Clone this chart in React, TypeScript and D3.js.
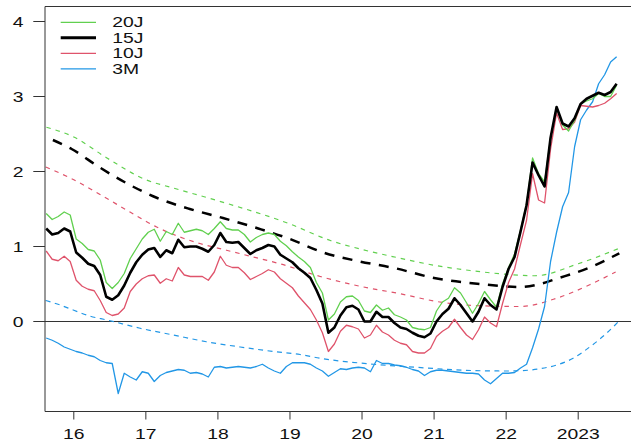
import React from "react";
import * as d3 from "d3";

// Monthly observations, first month Aug 2015
const startYear = 2015;
const startMonth = 8;

const yield20J = [
  1.44, 1.36, 1.40, 1.46, 1.42, 1.10, 1.04, 0.96, 0.94, 0.82,
  0.52, 0.44, 0.52, 0.64, 0.84, 0.97, 1.10, 1.19, 1.23, 1.07,
  1.20, 1.16, 1.31, 1.19, 1.21, 1.23, 1.21, 1.16, 1.24, 1.33,
  1.24, 1.22, 1.22, 1.16, 1.06, 1.12, 1.16, 1.18, 1.16, 1.07,
  1.01, 0.93, 0.86, 0.80, 0.72, 0.52, 0.38, 0.02, 0.10, 0.26,
  0.33, 0.34, 0.28, 0.14, 0.12, 0.22, 0.15, 0.18, 0.09, 0.06,
  0.02, -0.08, -0.10, -0.11, -0.08, 0.14, 0.26, 0.31, 0.45, 0.38,
  0.25, 0.11, 0.24, 0.40, 0.29, 0.19, 0.50, 0.72, 0.90, 1.22,
  1.57, 2.18, 1.97, 1.86, 2.45, 2.86, 2.62, 2.54, 2.68, 2.90,
  2.94, 2.97, 3.04, 3.00, 3.00, 3.15,
];

const yield15J = [
  1.24, 1.16, 1.18, 1.24, 1.20, 0.92, 0.85, 0.77, 0.74, 0.62,
  0.33, 0.29, 0.35, 0.48, 0.65, 0.79, 0.89, 0.96, 0.98, 0.86,
  0.95, 0.91, 1.09, 0.99, 1.00, 1.00, 0.97, 0.93, 1.02, 1.18,
  1.06, 1.05, 1.06, 0.98, 0.90, 0.95, 0.98, 1.02, 1.00, 0.89,
  0.84, 0.79, 0.71, 0.65, 0.58, 0.42, 0.24, -0.15, -0.08, 0.08,
  0.19, 0.21, 0.16, 0.00, 0.00, 0.13, 0.06, 0.06, -0.02, -0.08,
  -0.10, -0.15, -0.19, -0.21, -0.16, 0.00, 0.10, 0.17, 0.31, 0.22,
  0.11, 0.00, 0.13, 0.31, 0.22, 0.16, 0.46, 0.70, 0.86, 1.20,
  1.55, 2.12, 1.95, 1.80, 2.45, 2.86, 2.64, 2.60, 2.71, 2.90,
  2.97, 3.01, 3.05, 3.02, 3.06, 3.17,
];

const yield10J = [
  0.94, 0.83, 0.81, 0.87, 0.80, 0.55, 0.47, 0.43, 0.41, 0.28,
  0.12, 0.08, 0.10, 0.18, 0.40, 0.50, 0.57, 0.61, 0.62, 0.51,
  0.57, 0.54, 0.72, 0.62, 0.60, 0.60, 0.60, 0.55, 0.66, 0.87,
  0.75, 0.72, 0.72, 0.65, 0.56, 0.60, 0.64, 0.69, 0.66, 0.57,
  0.51, 0.45, 0.34, 0.25, 0.16, 0.02, -0.15, -0.40, -0.30, -0.13,
  -0.05, -0.07, -0.10, -0.22, -0.18, -0.05, -0.14, -0.18, -0.25, -0.29,
  -0.31, -0.40, -0.42, -0.42, -0.36, -0.20, -0.13, -0.08, 0.03, -0.08,
  -0.18, -0.24, -0.11, 0.06, -0.02, -0.07, 0.24, 0.52, 0.70, 1.03,
  1.35, 1.97, 1.62, 1.58, 2.30, 2.78, 2.56, 2.57, 2.66, 2.88,
  2.87, 2.86, 2.88, 2.91, 2.97, 3.04,
];

const yield3M = [
  -0.22, -0.25, -0.29, -0.34, -0.37, -0.40, -0.42, -0.45, -0.47, -0.52,
  -0.55, -0.56, -0.96, -0.69, -0.74, -0.78, -0.67, -0.69, -0.80, -0.72,
  -0.68, -0.66, -0.64, -0.65, -0.69, -0.68, -0.70, -0.74, -0.61, -0.60,
  -0.62, -0.61, -0.60, -0.61, -0.62, -0.60, -0.57, -0.62, -0.66, -0.69,
  -0.60, -0.55, -0.55, -0.55, -0.57, -0.62, -0.66, -0.73, -0.68, -0.63,
  -0.64, -0.62, -0.61, -0.62, -0.67, -0.52, -0.56, -0.56, -0.58, -0.59,
  -0.61, -0.64, -0.66, -0.72, -0.67, -0.65, -0.65, -0.66, -0.67, -0.68,
  -0.69, -0.69, -0.70, -0.78, -0.83, -0.76, -0.69, -0.69, -0.68, -0.62,
  -0.57, -0.35, -0.10, 0.20, 0.80, 1.19, 1.53, 1.72, 2.33, 2.69,
  2.82, 2.93, 3.17, 3.29, 3.46, 3.53,
];

// Smooth (dashed) curves: [decimal year, value]
const trend20J: [number, number][] = [
  [2015.62, 2.59], [2016.0, 2.46], [2016.46, 2.18], [2017.0, 1.89], [2017.38, 1.78],
  [2018.0, 1.61], [2019.0, 1.30], [2019.56, 1.08], [2020.0, 0.96], [2020.5, 0.85],
  [2021.0, 0.75], [2021.5, 0.68], [2022.0, 0.63], [2022.4, 0.61], [2023.0, 0.77],
  [2023.58, 0.98],
];
const trend15J: [number, number][] = [
  [2015.71, 2.42], [2015.97, 2.30], [2016.35, 2.06], [2016.74, 1.84], [2017.15, 1.65],
  [2017.61, 1.50], [2018.07, 1.38], [2018.56, 1.24], [2019.0, 1.10], [2019.46, 0.92],
  [2019.97, 0.80], [2020.46, 0.71], [2021.0, 0.58], [2021.64, 0.50], [2022.19, 0.46],
  [2022.47, 0.50], [2022.7, 0.57], [2023.16, 0.72], [2023.57, 0.91],
];
const trend10J: [number, number][] = [
  [2015.61, 2.06], [2016.0, 1.89], [2016.37, 1.69], [2016.78, 1.46], [2017.15, 1.26],
  [2017.52, 1.11], [2017.75, 1.04], [2018.12, 0.95], [2018.49, 0.86], [2018.86, 0.77],
  [2019.42, 0.60], [2019.97, 0.47], [2020.53, 0.37], [2021.08, 0.26], [2021.64, 0.21],
  [2022.19, 0.20], [2022.7, 0.31], [2023.16, 0.49], [2023.52, 0.66],
];
const trend3M: [number, number][] = [
  [2015.61, 0.28], [2015.81, 0.22], [2016.0, 0.15], [2016.23, 0.07], [2016.46, 0.02],
  [2016.92, -0.09], [2017.38, -0.18], [2017.84, -0.27], [2018.31, -0.34], [2018.77, -0.40],
  [2019.14, -0.44], [2019.42, -0.49], [2020.16, -0.57], [2020.9, -0.62], [2021.4, -0.65],
  [2022.0, -0.66], [2022.3, -0.65], [2022.47, -0.63], [2022.7, -0.58], [2022.93, -0.49],
  [2023.16, -0.34], [2023.39, -0.16], [2023.58, 0.02],
];

const xTicks = [2016, 2017, 2018, 2019, 2020, 2021, 2022, 2023];
const xTickLabels = ["16", "17", "18", "19", "20", "21", "22", "2023"];
const yTicks = [0, 1, 2, 3, 4];
const yTickLabels = ["0", "1", "2", "3", "4"];
const legendLabels = ["20J", "15J", "10J", "3M"];

const GREEN = "#61D04F";
const RED = "#DF536B";
const BLUE = "#2297E6";
const AXIS = "#333333";
const FONT = "'Liberation Sans', Arial, Helvetica, sans-serif";
const SX = 1.38; // horizontal stretch of the text

export default function App() {
  const W = 631;
  const H = 442;
  const left = 45;
  const top = 6.5;
  const bottom = 411.5;

  const x = d3.scaleLinear().domain([2016, 2023]).range([73.8, 578.2]);
  const y = d3.scaleLinear().domain([-1.2, 4.2]).range([bottom, top]);

  const tOf = (i: number) => startYear + (startMonth - 1 + 0.4 + i) / 12;
  const line = d3
    .line<number>()
    .x((_, i) => x(tOf(i)))
    .y((v) => y(v));
  const smooth = d3
    .line<[number, number]>()
    .x((d) => x(d[0]))
    .y((d) => y(d[1]))
    .curve(d3.curveMonotoneX);

  const legendItems = [
    { label: legendLabels[0], color: GREEN, w: 1.2 },
    { label: legendLabels[1], color: "#000", w: 3 },
    { label: legendLabels[2], color: RED, w: 1.2 },
    { label: legendLabels[3], color: BLUE, w: 1.2 },
  ];

  return (
    <svg
      width={W}
      height={H}
      viewBox={`0 0 ${W} ${H}`}
      style={{ position: "fixed", left: 0, top: 0, background: "#fff" }}
    >
      <defs>
        <clipPath id="plot">
          <rect x={left} y={top} width={W - left} height={bottom - top} />
        </clipPath>
      </defs>
      <rect x={0} y={0} width={W} height={H} fill="#fff" />

      <g clipPath="url(#plot)" fill="none">
        {/* zero line */}
        <line x1={left} x2={W} y1={y(0)} y2={y(0)} stroke={AXIS} strokeWidth={1} />
        {/* dashed trend curves */}
        <path d={smooth(trend3M) || ""} stroke={BLUE} strokeWidth={1.2} strokeDasharray="5,4.5" />
        <path d={smooth(trend10J) || ""} stroke={RED} strokeWidth={1.2} strokeDasharray="4.5,5" />
        <path d={smooth(trend20J) || ""} stroke={GREEN} strokeWidth={1.2} strokeDasharray="4.5,5" />
        <path d={smooth(trend15J) || ""} stroke="#000" strokeWidth={2.5} strokeDasharray="10,8.5" />
        {/* observed series */}
        <path d={line(yield3M) || ""} stroke={BLUE} strokeWidth={1.3} strokeLinejoin="round" />
        <path d={line(yield10J) || ""} stroke={RED} strokeWidth={1.3} strokeLinejoin="round" />
        <path d={line(yield20J) || ""} stroke={GREEN} strokeWidth={1.3} strokeLinejoin="round" />
        <path d={line(yield15J) || ""} stroke="#000" strokeWidth={2.6} strokeLinejoin="round" />
      </g>

      {/* frame: left, top, bottom */}
      <g stroke={AXIS} strokeWidth={1} fill="none">
        <line x1={left} x2={left} y1={top} y2={bottom} />
        <line x1={left} x2={W} y1={top} y2={top} />
        <line x1={left} x2={W} y1={bottom} y2={bottom} />
        {yTicks.map((t) => (
          <line key={"yt" + t} x1={33.3} x2={left} y1={y(t)} y2={y(t)} />
        ))}
        {xTicks.map((t) => (
          <line key={"xt" + t} x1={x(t)} x2={x(t)} y1={bottom} y2={419.5} />
        ))}
      </g>

      <g fontFamily={FONT} fontSize={14} fill="#111">
        {yTicks.map((t, i) => (
          <text
            key={"yl" + t}
            textAnchor="end"
            transform={`translate(23.5,${y(t) + 5}) scale(${SX},1)`}
          >
            {yTickLabels[i]}
          </text>
        ))}
        {xTicks.map((t, i) => (
          <text
            key={"xl" + t}
            textAnchor="middle"
            transform={`translate(${x(t)},438.5) scale(${SX},1)`}
          >
            {xTickLabels[i]}
          </text>
        ))}
      </g>

      {/* legend */}
      <g fontFamily={FONT} fontSize={14} fill="#111">
        {legendItems.map((it, k) => {
          const cy = 22.3 + k * 15.55;
          return (
            <g key={it.label}>
              <line x1={60.7} x2={96} y1={cy} y2={cy} stroke={it.color} strokeWidth={it.w} />
              <text transform={`translate(112.3,${cy + 5}) scale(${SX},1)`}>{it.label}</text>
            </g>
          );
        })}
      </g>
    </svg>
  );
}
